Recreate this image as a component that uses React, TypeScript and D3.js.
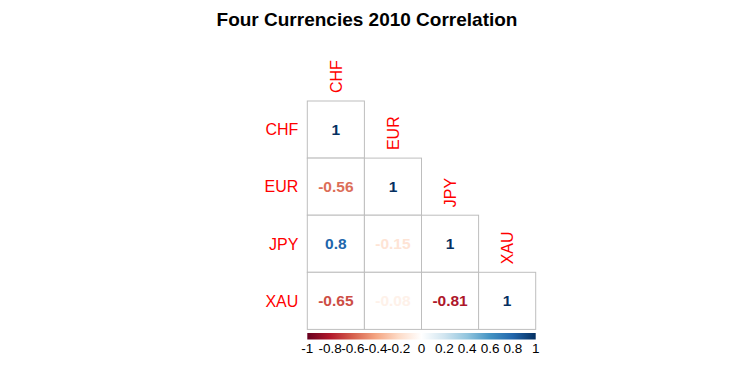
import { useEffect, useRef } from 'react';
import * as d3 from 'd3';

const names = ['CHF', 'EUR', 'JPY', 'XAU'];
// lower triangle of the correlation matrix, row by row
const rowCHF = [1];
const rowEUR = [-0.56, 1];
const rowJPY = [0.8, -0.15, 1];
const rowXAU = [-0.65, -0.08, -0.81, 1];
const rows = [rowCHF, rowEUR, rowJPY, rowXAU];

const palette = ['#67001F', '#B2182B', '#D6604D', '#F4A582', '#FDDBC7', '#FFFFFF',
  '#D1E5F0', '#92C5DE', '#4393C3', '#2166AC', '#053061'];
const barTicks = [-1, -0.8, -0.6, -0.4, -0.2, 0, 0.2, 0.4, 0.6, 0.8, 1];

const title = 'Four Currencies 2010 Correlation';

const App = () => {
  const svgRef = useRef<SVGSVGElement>(null);
  const width = 736;
  const height = 370;

  useEffect(() => {
    const svg = d3.select(svgRef.current);
    svg.selectAll('*').remove();

    const left = 307.3, top = 101, size = 57.1 * names.length;
    const x = d3.scaleBand().domain(names).range([left, left + size]);
    const y = d3.scaleBand().domain(names).range([top, top + size]);
    const color = d3.scaleLinear<string>()
      .domain(d3.range(palette.length).map(i => -1 + (2 * i) / (palette.length - 1)))
      .range(palette)
      .interpolate(d3.interpolateRgb);

    const font = 'Liberation Sans, Arial, sans-serif';

    svg.append('text')
      .attr('x', 367).attr('y', 26)
      .attr('text-anchor', 'middle')
      .attr('font-family', font)
      .attr('font-weight', 'bold')
      .attr('font-size', 19)
      .text(title);

    // cells
    const cells: { r: string; c: string; v: number }[] = [];
    rows.forEach((row, i) => row.forEach((v, j) => cells.push({ r: names[i], c: names[j], v })));

    const g = svg.append('g');
    g.selectAll('rect.cell')
      .data(cells)
      .join('rect')
      .attr('class', 'cell')
      .attr('x', d => x(d.c)!)
      .attr('y', d => y(d.r)!)
      .attr('width', x.bandwidth())
      .attr('height', y.bandwidth())
      .attr('fill', 'white')
      .attr('stroke', '#BEBEBE')
      .attr('stroke-width', 1);

    g.selectAll('text.val')
      .data(cells)
      .join('text')
      .attr('class', 'val')
      .attr('x', d => x(d.c)! + x.bandwidth() / 2)
      .attr('y', d => y(d.r)! + y.bandwidth() / 2)
      .attr('dy', '0.36em')
      .attr('text-anchor', 'middle')
      .attr('font-family', font)
      .attr('font-weight', 'bold')
      .attr('font-size', 15.5)
      .attr('fill', d => color(d.v))
      .text(d => String(d.v));

    // row labels
    g.selectAll('text.rowlab')
      .data(names)
      .join('text')
      .attr('class', 'rowlab')
      .attr('x', left - 9)
      .attr('y', d => y(d)! + y.bandwidth() / 2)
      .attr('dy', '0.36em')
      .attr('text-anchor', 'end')
      .attr('font-family', font)
      .attr('font-size', 16)
      .attr('fill', 'red')
      .text(d => d);

    // column labels, above the diagonal cell
    g.selectAll('text.collab')
      .data(names)
      .join('text')
      .attr('class', 'collab')
      .attr('transform', d => `translate(${x(d)! + x.bandwidth() / 2},${y(d)! - 8}) rotate(-90)`)
      .attr('dy', '0.36em')
      .attr('text-anchor', 'start')
      .attr('font-family', font)
      .attr('font-size', 16)
      .attr('fill', 'red')
      .text(d => d);

    // colour bar
    const barTop = 333, barH = 6.5;
    const bx = d3.scaleLinear().domain([-1, 1]).range([left, left + size]);
    const grad = svg.append('defs').append('linearGradient').attr('id', 'cbar');
    palette.forEach((c, i) => {
      grad.append('stop').attr('offset', `${(i / (palette.length - 1)) * 100}%`).attr('stop-color', c);
    });
    svg.append('rect')
      .attr('x', bx(-1)).attr('y', barTop)
      .attr('width', bx(1) - bx(-1)).attr('height', barH)
      .attr('fill', 'url(#cbar)');

    svg.selectAll('text.tick')
      .data(barTicks)
      .join('text')
      .attr('class', 'tick')
      .attr('x', d => bx(d))
      .attr('y', 353)
      .attr('text-anchor', 'middle')
      .attr('font-family', font)
      .attr('font-size', 13.5)
      .attr('fill', 'black')
      .text(d => String(d));
  }, []);

  return (
    <svg ref={svgRef} width={width} height={height}
      style={{ position: 'absolute', left: 0, top: 0, background: 'white' }} />
  );
};

export default App;
